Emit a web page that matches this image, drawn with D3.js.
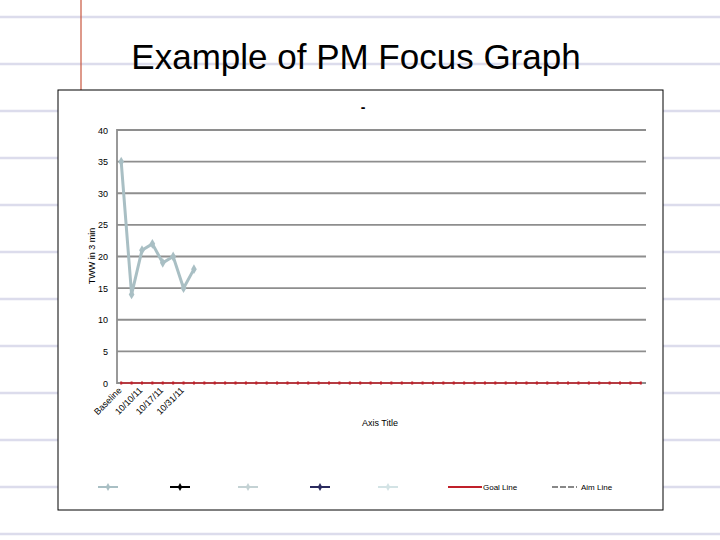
<!DOCTYPE html><html><head><meta charset="utf-8">
<script src="https://cdn.jsdelivr.net/npm/d3@7"></script>
<style>body{margin:0;background:#fff}svg{display:block}</style></head><body>
<svg id="c" width="720" height="540"></svg>
<script>
const categories = ["Baseline","","10/10/11","","10/17/11","","10/31/11","","","","","","","","","","","","","","","","","","","","","","","","","","","","","","","","","","","","","","","","","","","",""];
const tww = [35,14,21,22,19,20,15,18];
const goal = categories.map(()=>0);
const yTicks = [0,5,10,15,20,25,30,35,40];
const legendItems = [
 {label:"",color:"#a9bfc4",marker:true},
 {label:"",color:"#000000",marker:true},
 {label:"",color:"#c4d2d4",marker:true},
 {label:"",color:"#2a2a5e",marker:true},
 {label:"",color:"#d3e3e5",marker:true},
 {label:"Goal Line",color:"#c0202a",marker:false},
 {label:"Aim Line",color:"#888888",marker:false,dash:true}];

const svg = d3.select("#c");
for(let y=17;y<540;y+=47) svg.append("line").attr("x1",0).attr("x2",720).attr("y1",y).attr("y2",y).attr("stroke","#dcdcec").attr("stroke-width",2.5);
svg.append("line").attr("x1",81).attr("x2",81).attr("y1",0).attr("y2",90).attr("stroke","#c8553d").attr("stroke-width",1.2);
svg.append("text").attr("x",356).attr("y",69).attr("text-anchor","middle").attr("font-family","Liberation Sans, Arial").attr("font-size",35).text("Example of PM Focus Graph");
svg.append("rect").attr("x",58).attr("y",90).attr("width",605).attr("height",420).attr("fill","#fff").attr("stroke","#000").attr("stroke-width",1);
svg.append("text").attr("x",363).attr("y",112).attr("text-anchor","middle").attr("font-family","Liberation Sans, Arial").attr("font-size",14).attr("font-weight","bold").text("-");

const x = d3.scaleBand().domain(d3.range(categories.length)).range([116,646]);
const cx = i=>x(i)+x.bandwidth()/2;
const y = d3.scaleLinear().domain([0,40]).range([383,130]);
const f = "Liberation Sans, Arial";
const g = svg.append("g");
g.selectAll(".grid").data(yTicks).join("line").attr("x1",117).attr("x2",646).attr("y1",d=>y(d)).attr("y2",d=>y(d)).attr("stroke","#8e8e8e").attr("stroke-width",1.8);
g.append("line").attr("x1",117).attr("x2",117).attr("y1",129).attr("y2",384).attr("stroke","#8e8e8e").attr("stroke-width",1.8);
g.selectAll(".yl").data(yTicks).join("text").attr("x",108).attr("y",d=>y(d)+3.5).attr("text-anchor","end").attr("font-family",f).attr("font-size",9).text(d=>d);
svg.append("text").attr("transform","translate(95,256) rotate(-90)").attr("text-anchor","middle").attr("font-family",f).attr("font-size",9).text("TWW in 3 min");
svg.append("text").attr("x",380).attr("y",426).attr("text-anchor","middle").attr("font-family",f).attr("font-size",9).text("Axis Title");
g.append("path").datum(goal).attr("d",d3.line().x((d,i)=>cx(i)).y(d=>y(d))).attr("stroke","#c0202a").attr("stroke-width",1.5).attr("fill","none");
g.selectAll(".gm").data(goal).join("line").attr("x1",(d,i)=>cx(i)).attr("x2",(d,i)=>cx(i)).attr("y1",y(0)-1.5).attr("y2",y(0)+1.5).attr("stroke","#c0202a").attr("stroke-width",2);
g.selectAll(".xl").data(categories).join("text").attr("transform",(d,i)=>`translate(${cx(i)+1},${y(0)+8}) rotate(-45)`).attr("text-anchor","end").attr("font-family",f).attr("font-size",9).text(d=>d);
g.append("path").datum(tww).attr("d",d3.line().x((d,i)=>cx(i)).y(d=>y(d))).attr("stroke","#a9bfc4").attr("stroke-width",3).attr("fill","none");
g.selectAll(".pt").data(tww).join("path").attr("transform",(d,i)=>`translate(${cx(i)},${y(d)})`).attr("d",d3.symbol(d3.symbolDiamond,28)).attr("fill","#a9bfc4");
const lx=[98,170,238,310,378,448,552];
legendItems.forEach((it,k)=>{
 const lg = svg.append("g");
 lg.append("line").attr("x1",lx[k]).attr("x2",lx[k]+(k>=5?(k==5?34:25):20)).attr("y1",487).attr("y2",487).attr("stroke",it.color).attr("stroke-width",2).attr("stroke-dasharray",it.dash?"6,2":null);
 if(it.marker) lg.append("path").attr("transform",`translate(${lx[k]+10},487)`).attr("d",d3.symbol(d3.symbolDiamond,18)).attr("fill",it.color);
 if(it.label) lg.append("text").attr("x",lx[k]+(k==5?35:29)).attr("y",490).attr("font-family",f).attr("font-size",8).attr("fill","#000").text(it.label);
});
</script></body></html>
